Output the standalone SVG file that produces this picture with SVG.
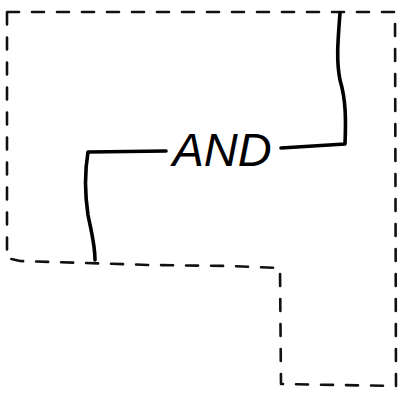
<svg xmlns="http://www.w3.org/2000/svg" width="401" height="396" viewBox="0 0 401 396">
<style>
.dash{fill:none;stroke:#111;stroke-width:2.6;stroke-dasharray:12 13;stroke-linecap:round;stroke-linejoin:round}
.wire{fill:none;stroke:#000;stroke-width:3.6;stroke-linecap:round;stroke-linejoin:round}
.lbl{font-family:"Liberation Sans",Arial,sans-serif;font-style:italic;font-size:47px;fill:#000}
</style>
<rect width="401" height="396" fill="#fff"/>
<g id="region">
<path class="dash" d="M7,12 L395,12 L396,386 L281,384 L280,268 L230,266 L150,265 L20,261 L7,258 Z"/>
</g>
<g id="connectors">
<path class="wire" d="M340,13 C338,40 336,60 340,80 C346,100 346,120 345,144 L281,148"/>
<path class="wire" d="M166,151 L88,152 C85,170 85,195 88,215 C92,235 95,245 95,260"/>
</g>
<g id="and-node">
<text class="lbl" x="222" y="166" text-anchor="middle">AND</text>
</g>
</svg>
